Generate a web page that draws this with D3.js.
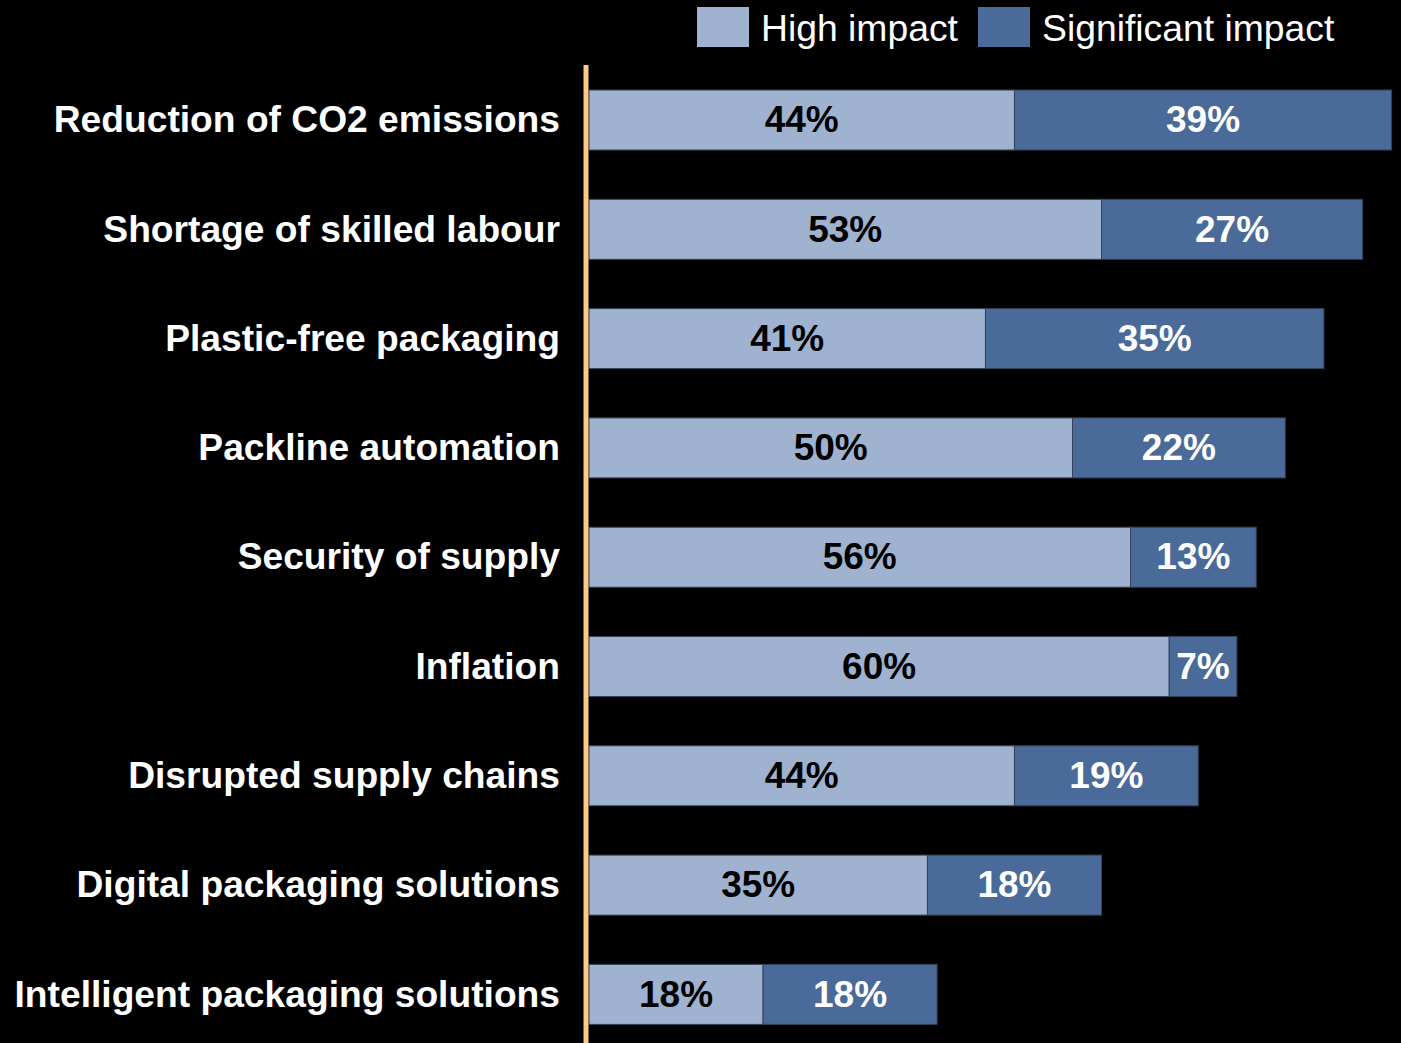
<!DOCTYPE html>
<html>
<head>
<meta charset="utf-8">
<script src="https://cdn.jsdelivr.net/npm/d3@7"></script>
<style>
  html, body { margin: 0; padding: 0; background: #000; }
  svg { display: block; }
  text { font-family: "Liberation Sans", Arial, Helvetica, sans-serif; }
</style>
</head>
<body>
<svg id="chart" width="1401" height="1043"></svg>
<script>
// Share of respondents rating each topic's impact
const categories = [
  "Reduction of CO2 emissions",
  "Shortage of skilled labour",
  "Plastic-free packaging",
  "Packline automation",
  "Security of supply",
  "Inflation",
  "Disrupted supply chains",
  "Digital packaging solutions",
  "Intelligent packaging solutions"
];
const highImpact        = [44, 53, 41, 50, 56, 60, 44, 35, 18];
const significantImpact = [39, 27, 35, 22, 13, 7, 19, 18, 18];
const seriesNames = ["High impact", "Significant impact"];
const seriesColors = ["#9FB2D0", "#4A6B9A"];
const labelColors = ["#000000", "#FFFFFF"];

const svg = d3.select("#chart");
svg.append("rect").attr("width", 1401).attr("height", 1043).attr("fill", "#000");

const x = d3.scaleLinear().domain([0, 100]).range([589, 589 + 967]);
const y = d3.scaleBand().domain(categories).range([90, 1024.4]).paddingInner(0.451).paddingOuter(0);

const rows = categories.map((c, i) => ({ cat: c, vals: [highImpact[i], significantImpact[i]] }));
const stack = d3.stack().keys([0, 1]).value((d, k) => d.vals[k]);
const layers = stack(rows);

const g = svg.append("g");
layers.forEach((layer, k) => {
  const lg = g.append("g");
  lg.selectAll("rect")
    .data(layer)
    .join("rect")
    .attr("x", d => x(d[0]))
    .attr("y", d => y(d.data.cat))
    .attr("width", d => x(d[1]) - x(d[0]))
    .attr("height", y.bandwidth())
    .attr("fill", seriesColors[k])
    .attr("stroke", "#34435A")
    .attr("stroke-width", 1);
  lg.selectAll("text")
    .data(layer)
    .join("text")
    .attr("x", d => (x(d[0]) + x(d[1])) / 2)
    .attr("y", d => y(d.data.cat) + y.bandwidth() / 2)
    .attr("dy", "0.33em")
    .attr("text-anchor", "middle")
    .attr("font-size", 37)
    .attr("font-weight", "bold")
    .attr("fill", labelColors[k])
    .text(d => d.data.vals[k] + "%");
});

// Category labels
svg.append("g").selectAll("text")
  .data(categories)
  .join("text")
  .attr("x", 560)
  .attr("y", d => y(d) + y.bandwidth() / 2)
  .attr("dy", "0.33em")
  .attr("text-anchor", "end")
  .attr("font-size", 37.2)
  .attr("font-weight", "bold")
  .attr("fill", "#fff")
  .text(d => d);

// Baseline
svg.append("line")
  .attr("x1", 586).attr("x2", 586)
  .attr("y1", 65).attr("y2", 1043)
  .attr("stroke", "#FCCB84")
  .attr("stroke-width", 5);

// Legend
const legendX = [697, 978];
const legend = svg.append("g");
seriesNames.forEach((name, k) => {
  legend.append("rect")
    .attr("x", legendX[k]).attr("y", 7)
    .attr("width", 52).attr("height", 40)
    .attr("fill", seriesColors[k]);
  legend.append("text")
    .attr("x", legendX[k] + 64).attr("y", 28)
    .attr("dy", "0.36em")
    .attr("font-size", 37.3)
    .attr("fill", "#fff")
    .text(name);
});
</script>
</body>
</html>
